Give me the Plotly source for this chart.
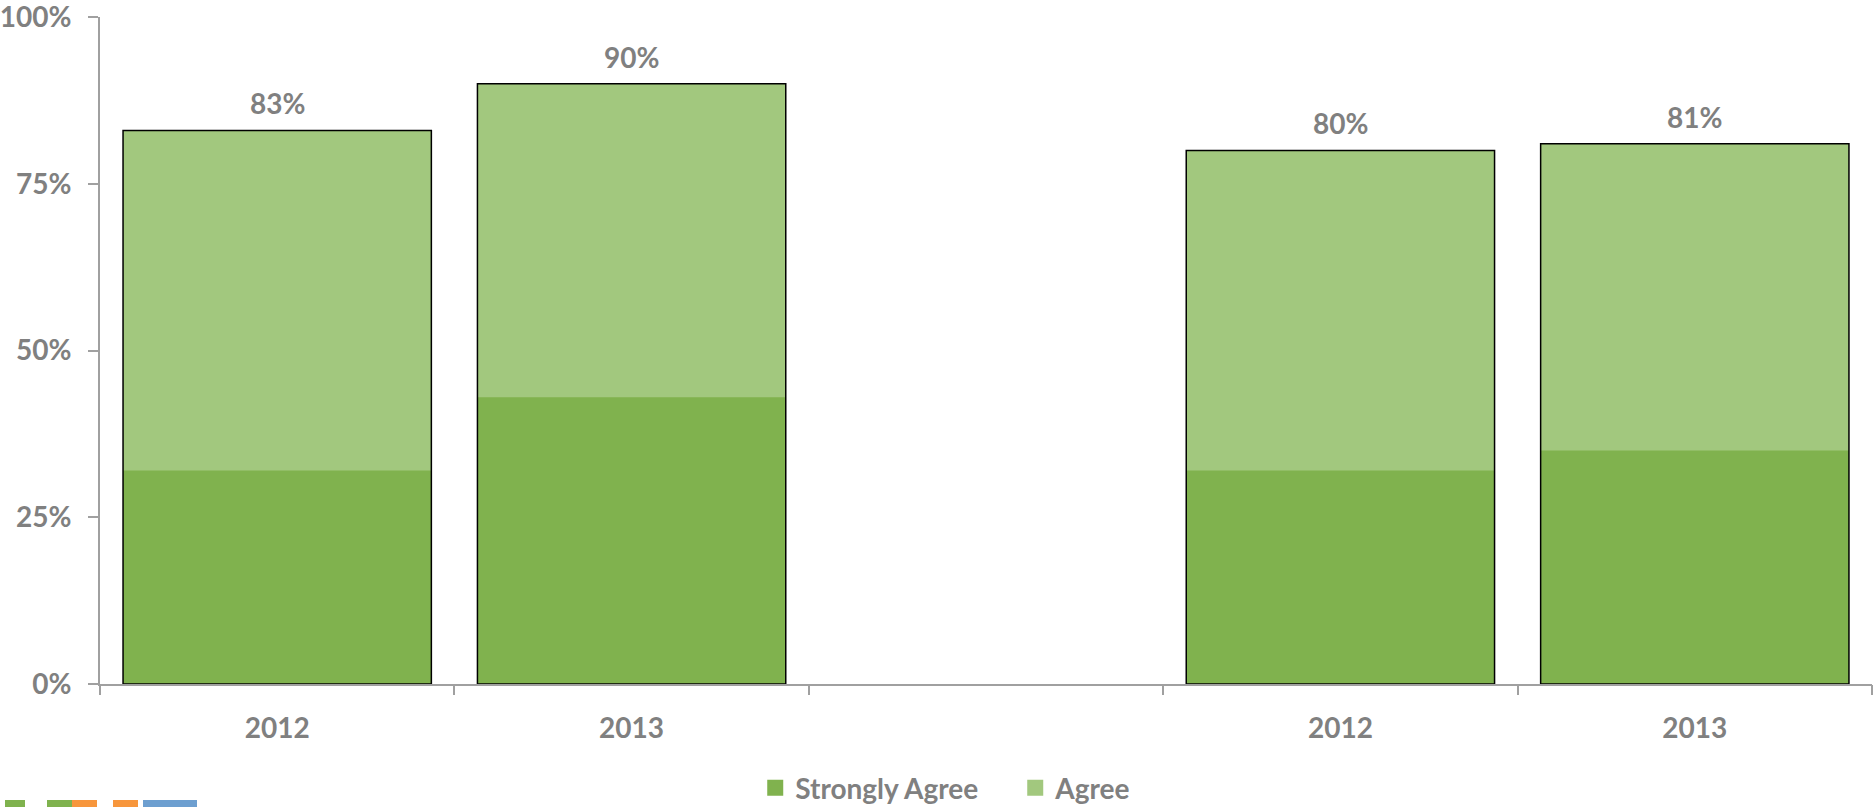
import plotly.graph_objects as go

# survey results, two groups of years
slots = [0, 1, 3, 4]
year_labels = ['2012', '2013', '2012', '2013']
strongly_agree = [32, 43, 32, 35]
agree = [51, 47, 48, 46]
totals = [a + b for a, b in zip(strongly_agree, agree)]

y_ticks = [0, 25, 50, 75, 100]
y_tick_text = ['0%', '25%', '50%', '75%', '100%']
slot_edges = [-0.5, 0.5, 1.5, 2.5, 3.5, 4.5]

GREY = '#808080'
AXIS = '#a0a0a0'
DARK = '#80b24e'
LIGHT = '#a2c87e'
FONT = 'Lato'
SIZE = 28
bold = dict(family=FONT, size=SIZE, color=GREY, weight='bold')

fig = go.Figure()

# light bar covers the full total, dark bar sits on top of it
fig.add_trace(go.Bar(x=slots, y=totals, name='Agree', marker_color=LIGHT,
                     marker_line_width=0, width=0.87, showlegend=False))
fig.add_trace(go.Bar(x=slots, y=strongly_agree, name='Strongly Agree', marker_color=DARK,
                     marker_line_width=0, width=0.87, showlegend=False))
# black outline around each whole bar, on the overlaid axis so it draws on top
fig.add_trace(go.Bar(x=slots, y=totals, showlegend=False, width=0.87, xaxis='x2',
                     marker=dict(color='rgba(0,0,0,0)', line=dict(color='black', width=1.5)),
                     hoverinfo='skip'))

# legend entries with bigger square keys
for name, col in [('Strongly Agree', DARK), ('Agree', LIGHT)]:
    fig.add_trace(go.Scatter(x=[None], y=[None], mode='markers', name=name,
                             marker=dict(symbol='square', size=18, color=col)))

for x, t in zip(slots, totals):
    fig.add_annotation(x=x, y=t, text=f'{t}%', showarrow=False, yanchor='bottom',
                       yshift=8, font=bold)

# cropped logo peeking in at the bottom-left corner
logo = [(5, 25, '#7fb24e'), (47, 72, '#7fb24e'), (72, 97, '#f7963c'),
        (113, 138, '#f7963c'), (143, 197, '#6d9fd0')]
for x0, x1, col in logo:
    fig.add_shape(type='rect', xref='paper', yref='paper',
                  x0=(x0 - 100) / 1772, x1=(x1 - 100) / 1772,
                  y0=(684 - 812) / 667, y1=(684 - 800) / 667,
                  fillcolor=col, line_width=0, layer='above')

fig.update_layout(
    barmode='overlay',
    width=1874, height=807,
    margin=dict(l=100, r=2, t=17, b=123, autoexpand=False),
    plot_bgcolor='white', paper_bgcolor='white',
    font=bold,
    legend=dict(orientation='h', x=0.5165, xanchor='center', y=(684 - 788) / 667, yanchor='middle',
                font=bold, traceorder='normal', itemsizing='trace',
                entrywidth=215, entrywidthmode='pixels'),
    xaxis=dict(range=[-0.5, 4.5], tickvals=slots, ticktext=year_labels, ticks='',
               ticklabelstandoff=18,
               showline=True, linecolor=AXIS, linewidth=2, showgrid=False, zeroline=False,
               tickfont=bold),
    xaxis2=dict(range=[-0.5, 4.5], overlaying='x', anchor='y', side='bottom',
                tickvals=slot_edges, showticklabels=False,
                ticks='outside', ticklen=10, tickwidth=2, tickcolor=AXIS,
                showline=False, showgrid=False, zeroline=False),
    yaxis=dict(range=[0, 100], tickvals=y_ticks, ticktext=y_tick_text,
               ticks='outside', ticklen=10, tickwidth=2, tickcolor=AXIS,
               ticklabelstandoff=11, ticklabeloverflow='allow',
               showline=True, linecolor=AXIS, linewidth=2, showgrid=False, zeroline=False,
               tickfont=bold),
)

# drop the default body margin so the figure fills the window exactly
fig.write_html('out.html', config={'displayModeBar': False},
               post_script="document.body.style.margin='0';")
